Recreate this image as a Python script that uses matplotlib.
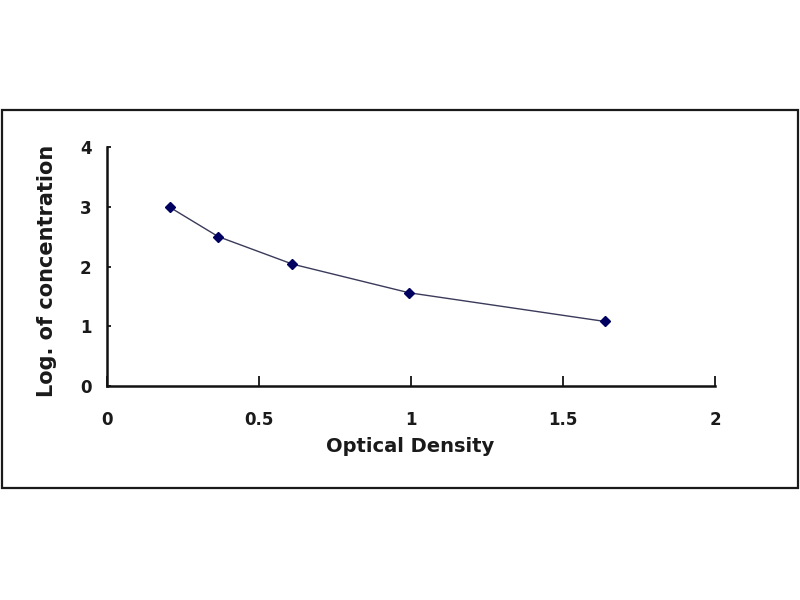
import matplotlib
matplotlib.use("Agg")
import matplotlib.pyplot as plt
from matplotlib.patches import Rectangle

# standard curve: optical density vs log of concentration
optical_density = [0.207, 0.366, 0.61, 0.994, 1.638]
log_conc = [2.99, 2.50, 2.04, 1.56, 1.08]
x_ticks = [0, 0.5, 1, 1.5, 2]
x_tick_labels = ["0", "0.5", "1", "1.5", "2"]
y_ticks = [0, 1, 2, 3, 4]

FAMILY = "DejaVu Sans"
INK = "#1a1a1a"

fig = plt.figure(figsize=(8, 6), dpi=100)
fig.patch.set_facecolor("white")

# outer frame round the chart area
fig.patches.append(Rectangle((0.003, 1 - 488 / 600), 0.994, (488 - 110) / 600,
                             transform=fig.transFigure, fill=False,
                             edgecolor=INK, linewidth=1.6))

ax = fig.add_axes([107 / 800, 1 - 386 / 600, 608 / 800, 239 / 600])
ax.plot(optical_density, log_conc, color="#3a3a5a", linewidth=1.0,
        marker="D", markersize=5, markerfacecolor="#000060",
        markeredgecolor="#000060")

ax.set_xlim(0, 2)
ax.set_ylim(0, 4)
ax.set_xticks(x_ticks)
ax.set_xticklabels(x_tick_labels)
ax.set_yticks(y_ticks)
for spine in ("top", "right"):
    ax.spines[spine].set_visible(False)
for spine in ("left", "bottom"):
    ax.spines[spine].set_linewidth(1.8)
    ax.spines[spine].set_color("#111111")

ax.tick_params(axis="x", direction="in", length=7, width=1.2, pad=18)
ax.tick_params(axis="y", direction="in", length=3, width=1.2, pad=11)
for lab in ax.get_xticklabels() + ax.get_yticklabels():
    lab.set_fontfamily(FAMILY)
    lab.set_fontweight("bold")
    lab.set_fontsize(12)
    lab.set_color(INK)

fig.text(410 / 800, 1 - 447 / 600, "Optical Density", ha="center",
         va="center", color=INK, family=FAMILY, weight="bold", size=14)
fig.text(47 / 800, 1 - 271 / 600, "Log. of concentration", ha="center",
         va="center", rotation=90, color=INK, family=FAMILY, weight="bold",
         size=15)

fig.savefig("out.png", dpi=100)
